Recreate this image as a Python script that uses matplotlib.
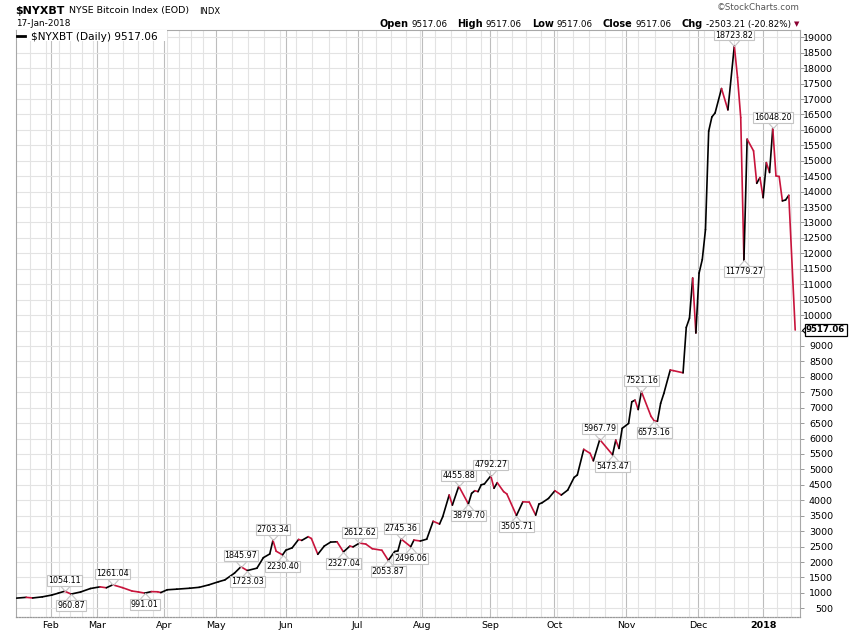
import numpy as np
import pandas as pd
import matplotlib
matplotlib.use("Agg")
import matplotlib.pyplot as plt
from matplotlib.collections import LineCollection
from matplotlib.path import Path
from matplotlib.lines import Line2D
import matplotlib.patches as mpatches

plt.rcParams["font.family"] = ["DejaVu Sans"]

# --- data (bar index = trading-day slot, 0 = 17-Jan-2017) ---
bars = [0, 3, 5, 8, 11, 13, 15, 17, 20, 23, 26, 28, 30, 33, 36, 38, 40, 42, 44, 45,
        47, 50, 54, 57, 60, 63, 65, 68, 70, 72, 75, 77, 79, 80, 81, 83, 84, 86, 88, 89,
        91, 92, 94, 96, 98, 100, 102, 104, 105, 107, 109, 111, 114, 116, 118, 119, 120,
        123, 124, 126, 128, 130, 132, 133, 135, 136, 138, 141, 142, 143, 144, 145, 146,
        148, 149, 150, 152, 153, 156, 158, 160, 162, 163, 164, 166, 168, 170, 172, 174,
        175, 177, 179, 180, 182, 186, 187, 188, 189, 191, 192, 193, 194, 195, 198, 199,
        200, 201, 202, 204, 205, 208, 209, 210, 211, 212, 213, 214, 215, 216, 217, 218,
        220, 222, 224, 225, 226, 227, 228, 230, 231, 232, 233, 234, 235, 236, 237, 238,
        239, 240, 241, 243]
close = [830, 855, 835, 870, 930, 990, 1054.11, 960.87, 1030, 1140, 1195, 1165, 1261.04,
         1170, 1060, 1030, 991.01, 1040, 1035, 1010, 1100, 1120, 1150, 1180, 1260, 1360,
         1420, 1640, 1845.97, 1723.03, 1800, 2140, 2260, 2703.34, 2350, 2230.40, 2380,
         2460, 2730, 2700, 2820, 2760, 2250, 2515, 2645, 2655, 2327.04, 2515, 2490,
         2612.62, 2580, 2430, 2380, 2053.87, 2340, 2360, 2745.36, 2496.06, 2710, 2680,
         2740, 3320, 3230, 3470, 4170, 3844, 4455.88, 3879.70, 4224, 4310, 4280, 4500,
         4530, 4792.27, 4390, 4570, 4280, 4205, 3505.71, 3950, 3940, 3520, 3875, 3920,
         4060, 4310, 4170, 4330, 4740, 4820, 5650, 5520, 5280, 5967.79, 5473.47, 5950,
         5680, 6330, 6490, 7190, 7245, 6940, 7521.16, 6720, 6573.16, 6560, 7140, 7460,
         8220, 8200, 8130, 9600, 9900, 11200, 9420, 11360, 11800, 12770, 15960, 16420,
         16550, 17340, 16650, 18723.82, 17700, 16400, 11779.27, 15700, 15320, 14270,
         14455, 13805, 14940, 14620, 16048.20, 14510, 14490, 13700, 13730, 13880, 9517.06]

peak_bars = [15, 30, 70, 80, 107, 120, 138, 148, 182, 195, 224, 236]
trough_bars = [17, 40, 72, 83, 102, 116, 123, 141, 156, 186, 199, 227]

month_labels = ["Feb", "Mar", "Apr", "May", "Jun", "Jul", "Aug", "Sep", "Oct", "Nov", "Dec", "2018"]
month_dates = ["2017-02-01", "2017-03-01", "2017-04-01", "2017-05-01", "2017-06-01", "2017-07-01",
               "2017-08-01", "2017-09-01", "2017-10-01", "2017-11-01", "2017-12-01", "2018-01-01"]
month_bars = [10.6, 25.0, 45.9, 62.1, 84.2, 106.4, 126.6, 147.8, 167.8, 190.3, 212.7, 233.0]

last = close[-1]
open_, high, low = 9517.06, 9517.06, 9517.06
chg, chg_pct = -2503.21, -20.82

RED = "#c8143c"
W, H = 850, 633

fig = plt.figure(figsize=(8.5, 6.33), dpi=100)
ax = fig.add_axes([16 / W, 1 - 617 / H, 784 / W, 587 / H])

# line, black when rising, red when falling
pts = np.column_stack([bars, close])
segs = np.stack([pts[:-1], pts[1:]], axis=1)
cols = ["black" if b[1] >= a[1] else RED for a, b in zip(pts[:-1], pts[1:])]
ax.add_collection(LineCollection(segs, colors=cols, linewidths=1.2, zorder=3,
                                 capstyle="round", joinstyle="round"))

ax.set_xlim(-0.2, 244.5)
ax.set_ylim(218, 19237)

# grid
ax.set_xticks(month_bars)
ax.set_xticklabels(month_labels)
ax.get_xticklabels()[-1].set_fontweight("bold")
anchor_d = pd.to_datetime(["2017-01-17"] + month_dates + ["2018-01-17"])
anchor_b = [0] + month_bars + [243]
mondays = pd.date_range("2017-01-23", "2018-01-15", freq="W-MON")
base = anchor_d[0]
minor = np.interp((mondays - base).days, (anchor_d - base).days, anchor_b)
ax.set_xticks(minor, minor=True)
yt = np.arange(500, 19001, 500)
ax.set_yticks(yt)
# the 9500 label sits under the last-value box in the original
ax.set_yticklabels(["" if v == 9500 else str(v) for v in yt])
ax.grid(True, which="major", axis="x", color="#bdbdbd", lw=0.8)
ax.grid(True, which="minor", axis="x", color="#e3e3e3", lw=0.8)
ax.grid(True, which="major", axis="y", color="#e3e3e3", lw=0.8)
ax.set_axisbelow(True)

ax.yaxis.tick_right()
ax.tick_params(axis="y", length=3, width=0.7, color="#999999", pad=20.7, labelsize=6.8)
for lab in ax.get_yticklabels():
    lab.set_horizontalalignment("right")
ax.tick_params(axis="x", which="both", length=0, pad=3, labelsize=6.8)

for s in ["left", "right", "top"]:
    ax.spines[s].set_color("#a8a8a8")
    ax.spines[s].set_linewidth(0.8)
ax.spines["bottom"].set_color("#999999")
ax.spines["bottom"].set_linestyle((0, (1, 1.2)))
ax.spines["bottom"].set_linewidth(0.9)

# peak / trough labels
val = dict(zip(bars, close))
tail_up = Path([(-5, 5.5), (0, 0), (5, 5.5)], [Path.MOVETO, Path.LINETO, Path.LINETO])
tail_dn = Path([(-5, -5.5), (0, 0), (5, -5.5)], [Path.MOVETO, Path.LINETO, Path.LINETO])
for blist, up in [(peak_bars, True), (trough_bars, False)]:
    for b in blist:
        v = val[b]
        ax.plot([b], [v], marker=tail_up if up else tail_dn, markersize=7.9,
                mfc="none", mec="#c4c4c4", mew=0.8, zorder=4)
        ax.annotate(f"{v:.2f}", xy=(b, v), xytext=(0, 7.8 if up else -8.2),
                    textcoords="offset points", ha="center", va="center", fontsize=5.8,
                    bbox=dict(boxstyle="square,pad=0.12", fc="white", ec="#c4c4c4", lw=0.8),
                    zorder=5)

# last value box on the right axis
ax.plot([1.003], [last], marker=Path([(1, 1), (0, 0), (1, -1)], [Path.MOVETO, Path.LINETO, Path.LINETO]),
        markersize=5, mfc="none", mec="black", mew=0.8, transform=ax.get_yaxis_transform(),
        clip_on=False, zorder=6)
ax.annotate(f"{last:.2f}", xy=(1, last), xycoords=("axes fraction", "data"), xytext=(4.3, 0),
            textcoords="offset points", ha="left", va="center", fontsize=6.2, fontweight="bold",
            bbox=dict(boxstyle="square,pad=0.15", fc="white", ec="black", lw=0.9),
            annotation_clip=False, zorder=7)


def fx(x):
    return x / W


def fy(y):
    return 1 - y / H


# legend inside plot
fig.add_artist(mpatches.Rectangle((fx(16.5), fy(41)), fx(150), 10.5 / H, transform=fig.transFigure,
                                  fc="white", ec="none", zorder=4))
fig.add_artist(Line2D([fx(17), fx(25)], [fy(35.5), fy(35.5)], transform=fig.transFigure,
                      color="black", lw=2, zorder=6))
fig.text(fx(31), fy(39.5), f"$NYXBT (Daily) {last:.2f}", fontsize=7.6, va="baseline", zorder=6)

# header
fig.text(fx(15), fy(13.5), "$NYXBT", fontsize=7.9, fontweight="bold", va="baseline")
fig.text(fx(69), fy(13.5), "NYSE Bitcoin Index (EOD)", fontsize=6.8, va="baseline")
fig.text(fx(199), fy(13.5), "INDX", fontsize=6.0, va="baseline")
fig.text(fx(16), fy(26), "17-Jan-2018", fontsize=6.4, va="baseline")
fig.text(fx(800), fy(10), "\u00a9StockCharts.com", fontsize=6.3, color="#555555", ha="right",
         va="baseline")

# stats row, placed right to left
pieces = [("Open", True), (f"{open_:.2f}", False), ("High", True), (f"{high:.2f}", False),
          ("Low", True), (f"{low:.2f}", False), ("Close", True), (f"{last:.2f}", False),
          ("Chg", True), (f"{chg:.2f} ({chg_pct:.2f}%)", False)]
renderer = fig.canvas.get_renderer()
cur = 791
for i, (txt, bold) in enumerate(reversed(pieces)):
    t = fig.text(fx(cur), fy(27), txt, fontsize=7.0 if bold else 6.3,
                 fontweight="bold" if bold else "normal", ha="right", va="baseline")
    w = t.get_window_extent(renderer).width
    cur -= w + (3 if not bold else 10)
fig.text(fx(797), fy(26.5), "\u25bc", fontsize=5, color="#8c0032", ha="center", va="baseline")

fig.savefig("out.png", dpi=100)
